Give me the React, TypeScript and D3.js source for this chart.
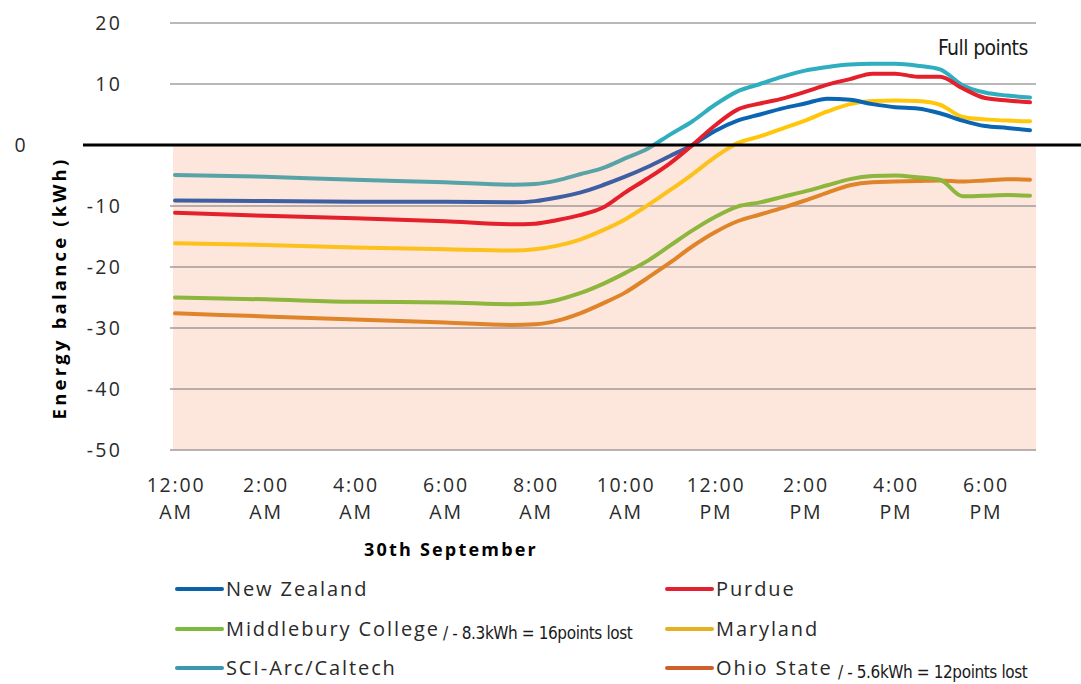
import React from "react";
import * as d3 from "d3";

const hours = [0, 2, 4, 6, 7.5, 8, 8.5, 9, 9.5, 10, 10.5, 11, 11.5, 12, 12.5, 13, 13.5, 14, 14.5, 15, 15.5, 16, 16.5, 17, 17.5, 18, 18.5, 19];

const newZealand = [-9.1, -9.2, -9.3, -9.3, -9.4, -9.2, -8.6, -7.8, -6.6, -5.2, -3.6, -1.8, 0, 2.3, 4.0, 5.0, 6.0, 6.8, 7.6, 7.4, 6.7, 6.2, 6.0, 5.2, 4.0, 3.1, 2.8, 2.4];
const purdue = [-11.1, -11.6, -12.0, -12.5, -13.0, -12.9, -12.3, -11.5, -10.3, -7.8, -5.5, -3.0, 0, 3.2, 5.8, 6.8, 7.6, 8.7, 9.9, 10.8, 11.7, 11.7, 11.2, 11.2, 9.3, 7.7, 7.3, 7.0];
const middlebury = [-25.0, -25.3, -25.7, -25.8, -26.1, -26.0, -25.4, -24.3, -22.8, -21.0, -19.0, -16.5, -14.0, -11.8, -10.1, -9.4, -8.5, -7.6, -6.6, -5.6, -5.1, -5.0, -5.3, -5.7, -8.4, -8.3, -8.2, -8.3];
const maryland = [-16.1, -16.4, -16.8, -17.1, -17.3, -17.1, -16.5, -15.5, -14.0, -12.2, -9.9, -7.4, -4.8, -2.0, 0.3, 1.4, 2.7, 4.0, 5.5, 6.7, 7.2, 7.3, 7.2, 6.6, 4.6, 4.2, 4.0, 3.9];
const sciArc = [-4.9, -5.2, -5.7, -6.1, -6.5, -6.4, -5.8, -4.8, -3.8, -2.2, -0.6, 1.7, 3.9, 6.6, 8.8, 10.0, 11.2, 12.2, 12.8, 13.2, 13.3, 13.3, 13.0, 12.4, 9.8, 8.6, 8.1, 7.8];
const ohioState = [-27.6, -28.1, -28.6, -29.1, -29.5, -29.4, -28.8, -27.6, -26.0, -24.2, -21.8, -19.3, -16.6, -14.3, -12.5, -11.4, -10.3, -9.1, -7.8, -6.6, -6.1, -6.0, -5.9, -5.8, -6.0, -5.8, -5.6, -5.7];

const yTicks = [20, 10, 0, -10, -20, -30, -40, -50];
const xTickHours = [0, 2, 4, 6, 8, 10, 12, 14, 16, 18];
const xTickTop = ["12:00", "2:00", "4:00", "6:00", "8:00", "10:00", "12:00", "2:00", "4:00", "6:00"];
const xTickBottom = ["AM", "AM", "AM", "AM", "AM", "AM", "PM", "PM", "PM", "PM"];

const seriesNames = ["New Zealand", "Purdue", "Middlebury College", "Maryland", "SCI-Arc/Caltech", "Ohio State"];
const seriesValues = [newZealand, purdue, middlebury, maryland, sciArc, ohioState];
const upperColors = ["#0a66b2", "#e3202b", "#8cb63c", "#ffc60a", "#2eaebf", "#e0842a"];
const lowerColors = ["#3f5fa3", "#e3202b", "#8cb63c", "#fcc11a", "#58a3a8", "#e0842a"];
const legendColors = ["#0b62a8", "#e42030", "#7cba3e", "#e6b020", "#3a98b0", "#d0602a"];
const legendNotes = ["", "", "/ - 8.3kWh = 16points lost", "", "", "/ - 5.6kWh = 12points lost"];
const legendNoteX = [0, 0, 443, 0, 0, 838];
const drawOrder = [5, 2, 3, 4, 0, 1];

const FONT = "'Open Sans', 'Liberation Sans', sans-serif";
const HAND = "'DejaVu Sans Condensed', 'DejaVu Sans', sans-serif";

export default function App() {
  const x = d3.scaleLinear().domain([0, 19]).range([175, 1030]);
  const y = d3.scaleLinear().domain([-50, 20]).range([450, 23]);
  const line = d3
    .line<number>()
    .x((_, i) => x(hours[i]))
    .y((d) => y(d))
    .curve(d3.curveMonotoneX);

  const zeroY = y(0);
  const plotLeft = 173;
  const plotRight = 1036;

  return (
    <svg width={1081} height={684} style={{ position: "absolute", left: 0, top: 0, background: "#fff" }}>
      <defs>
        <clipPath id="above">
          <rect x={0} y={0} width={1081} height={zeroY} />
        </clipPath>
        <clipPath id="below">
          <rect x={0} y={zeroY} width={1081} height={684 - zeroY} />
        </clipPath>
      </defs>
      <rect x={plotLeft} y={zeroY} width={plotRight - plotLeft} height={y(-50) - zeroY} fill="#fde6dc" />
      {yTicks.filter((t) => t !== 0).map((t) => (
        <line key={t} x1={170} x2={plotRight} y1={y(t)} y2={y(t)} stroke={t < 0 ? "#a39a98" : "#a0a0a0"} strokeWidth={1.6} />
      ))}
      {yTicks.map((t) => (
        <text
          key={"yl" + t}
          x={t === 0 ? 20 : 122}
          y={y(t)}
          dy="0.35em"
          textAnchor={t === 0 ? "middle" : "end"}
          fontFamily={FONT}
          fontSize={19.5}
          letterSpacing={t === 0 ? 0 : 2.2}
          fill="#2a2a2a"
        >
          {t}
        </text>
      ))}
      {drawOrder.map((i) => (
        <g key={seriesNames[i]} fill="none" strokeWidth={4} strokeLinejoin="round" strokeLinecap="round">
          <path d={line(seriesValues[i]) || ""} stroke={upperColors[i]} clipPath="url(#above)" />
          <path d={line(seriesValues[i]) || ""} stroke={lowerColors[i]} clipPath="url(#below)" />
        </g>
      ))}
      <line x1={83} x2={1081} y1={zeroY} y2={zeroY} stroke="#000" strokeWidth={3} />
      <text x={938} y={48} dy="0.35em" fontFamily={HAND} fontSize={21} fill="#1a1a1a" letterSpacing={-0.6} fontWeight={300}>
        Full points
      </text>
      <text
        transform={`translate(66,288) rotate(-90)`}
        textAnchor="middle"
        fontFamily={FONT}
        fontWeight="bold"
        fontSize={18.5}
        letterSpacing={3.2}
        fill="#000"
      >
        Energy balance (kWh)
      </text>
      {xTickHours.map((h, i) => (
        <g key={"xt" + h} fontFamily={FONT} fontSize={19.5} fill="#2a2a2a" textAnchor="middle" letterSpacing={1.8}>
          <text x={x(h) + 1} y={492}>{xTickTop[i]}</text>
          <text x={x(h) + 1} y={519}>{xTickBottom[i]}</text>
        </g>
      ))}
      <text x={451} y={556} textAnchor="middle" fontFamily={FONT} fontWeight="bold" fontSize={18} letterSpacing={2.2} fill="#000">
        30th September
      </text>
      {seriesNames.map((name, i) => {
        const col = i % 2;
        const row = Math.floor(i / 2);
        const lx = col === 0 ? 177 : 667;
        const ly = [589, 629, 668][row];
        return (
          <g key={"lg" + name}>
            <line x1={lx} x2={lx + 45} y1={ly} y2={ly} stroke={legendColors[i]} strokeWidth={4} strokeLinecap="round" />
            <text x={lx + 49} y={ly} dy="0.35em" fontFamily={FONT} fontSize={20} letterSpacing={1.9} fill="#2a2a2a">
              {name}
            </text>
            {legendNotes[i] ? (
              <text x={legendNoteX[i]} y={ly + 4} dy="0.35em" fontFamily={HAND} fontSize={17} letterSpacing={-0.4} fill="#1a1a1a">
                {legendNotes[i]}
              </text>
            ) : null}
          </g>
        );
      })}
    </svg>
  );
}
